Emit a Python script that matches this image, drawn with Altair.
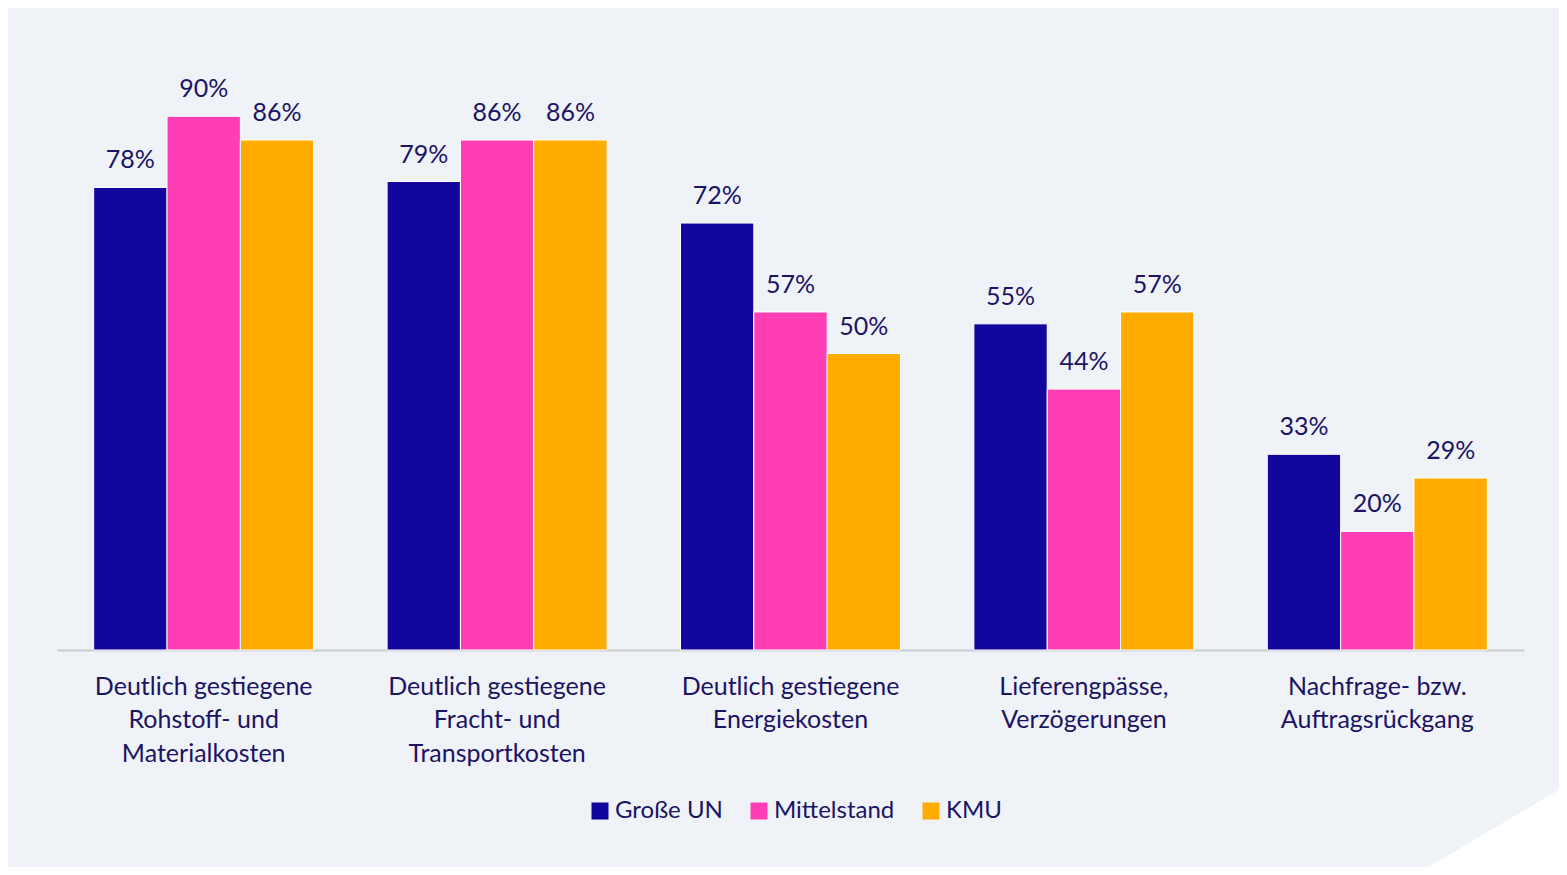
import altair as alt
import pandas as pd

categories = [
    "Deutlich gestiegene|Rohstoff- und|Materialkosten",
    "Deutlich gestiegene|Fracht- und|Transportkosten",
    "Deutlich gestiegene|Energiekosten",
    "Lieferengpässe,|Verzögerungen",
    "Nachfrage- bzw.|Auftragsrückgang",
]
groups = ["Große UN", "Mittelstand", "KMU"]
grosse_un = [78, 79, 72, 55, 33]
mittelstand = [90, 86, 57, 44, 20]
kmu = [86, 86, 50, 57, 29]
colors = ["#12069c", "#ff3db4", "#ffab00"]

TEXT = "#1b1464"
FONT = "Lato"

rows = []
for series, vals in zip(groups, [grosse_un, mittelstand, kmu]):
    for c, v in zip(categories, vals):
        rows.append({"category": c, "group": series, "value": v})
df = pd.DataFrame(rows)

x = alt.X(
    "category:N",
    sort=categories,
    scale=alt.Scale(paddingInner=0.25, paddingOuter=0.125),
    axis=alt.Axis(
        title=None,
        labelExpr="split(datum.label, '|')",
        labelAngle=0,
        ticks=False,
        tickSize=0,
        domainColor="#c9cdd3",
        domainWidth=2,
        labelFont=FONT,
        labelFontSize=25,
        labelColor=TEXT,
        labelPadding=24,
        labelLineHeight=33.5,
        labelLimit=0,
    ),
)
xo = alt.XOffset("group:N", sort=groups)
y = alt.Y("value:Q", scale=alt.Scale(domain=[0, 100]), axis=None)

base = alt.Chart(df).encode(x=x, xOffset=xo, y=y)

bars = base.mark_bar(stroke="#ffffff", strokeWidth=1).encode(
    color=alt.Color(
        "group:N",
        sort=groups,
        scale=alt.Scale(domain=groups, range=colors),
        legend=alt.Legend(
            title=None,
            orient="none",
            legendX=531,
            legendY=742,
            direction="horizontal",
            symbolType="square",
            symbolSize=289,
            symbolStrokeWidth=0,
            labelFont=FONT,
            labelFontSize=24,
            labelColor=TEXT,
            labelOffset=3,
            columnPadding=24,
            padding=0,
        ),
    )
)

labels = base.transform_calculate(lbl="datum.value + '%'").mark_text(
    dy=-19, baseline="alphabetic", fontSize=25, font=FONT, color=TEXT
).encode(text="lbl:N")

corner = alt.Chart(pd.DataFrame({"k": [0]})).mark_point(
    shape="M -1 1 L 1 -0.184 L 1 1 Z",
    filled=True,
    color="#ffffff",
    opacity=1,
    size=23104,
    strokeWidth=0,
).encode(x=alt.value(1434), y=alt.value(742))

chart = (
    alt.layer(bars, labels, corner)
    .properties(
        width=1467,
        height=593,
        autosize=alt.AutoSizeParams(type="none"),
        padding={"left": 49, "top": 49, "right": 35, "bottom": 217},
    )
    .configure(background="#eff2f7")
    .configure_view(stroke=None)
)

chart.save("out.html", embed_options={"renderer": "svg", "actions": False})
